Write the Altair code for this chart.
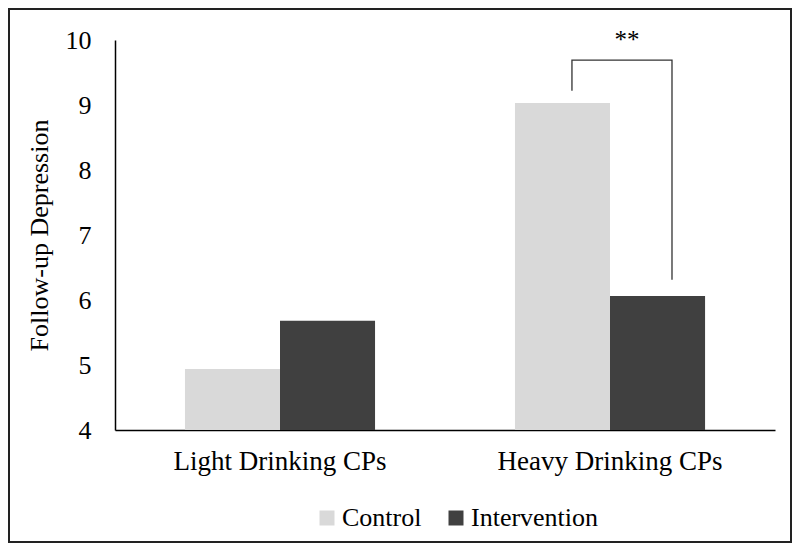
import altair as alt
import pandas as pd

categories = ["Light Drinking CPs", "Heavy Drinking CPs"]
groups = ["Control", "Intervention"]
control_values = [4.94, 9.03]
intervention_values = [5.68, 6.06]
colors = ["#d9d9d9", "#404040"]

# significance bracket (Heavy Drinking CPs): left foot, top, top, right foot
bracket_groups = ["Control", "Control", "Intervention", "Intervention"]
bracket_values = [9.22, 9.69, 9.69, 6.31]
star_label = "**"
star_value = 10.0

rows = []
for i, c in enumerate(categories):
    rows.append({"cat": c, "group": "Control", "value": control_values[i]})
    rows.append({"cat": c, "group": "Intervention", "value": intervention_values[i]})
df = pd.DataFrame(rows)

bracket_df = pd.DataFrame({
    "cat": [categories[1]] * 4,
    "group": bracket_groups,
    "value": bracket_values,
    "step": list(range(4)),
})
star_df = pd.DataFrame({"cat": [categories[1]], "value": [star_value], "label": [star_label]})

FONT = "Liberation Serif"

x_enc = alt.X("cat:N", sort=categories, title=None,
              scale=alt.Scale(paddingInner=0.424, paddingOuter=0.212),
              axis=alt.Axis(labelAngle=0, ticks=False, labelPadding=18, labelLimit=0,
                            labelFontSize=27))
y_scale = alt.Scale(domain=[4, 10], nice=False, zero=False)

bars = alt.Chart(df).mark_bar(clip=True).encode(
    x=x_enc,
    xOffset=alt.XOffset("group:N", sort=groups, scale=alt.Scale(paddingInner=0, paddingOuter=0)),
    y=alt.Y("value:Q", scale=y_scale, title="Follow-up Depression",
            axis=alt.Axis(values=[4, 5, 6, 7, 8, 9, 10], format="d", grid=False, ticks=False,
                          labelPadding=24, titlePadding=13, labelFontSize=26, titleFontSize=26)),
    y2=alt.datum(4),
    color=alt.Color("group:N", sort=groups, scale=alt.Scale(domain=groups, range=colors),
                    legend=alt.Legend(title=None, orient="none", direction="horizontal",
                                      legendX=199, legendY=465, symbolType="square",
                                      symbolSize=225, symbolStrokeWidth=0,
                                      columnPadding=21, labelOffset=2)),
)

bracket = alt.Chart(bracket_df).mark_line(color="#333", strokeWidth=1.3).encode(
    x=alt.X("cat:N", sort=categories),
    xOffset=alt.XOffset("group:N", sort=groups,
                        scale=alt.Scale(type="point", padding=0.45, align=0.633)),
    y=alt.Y("value:Q", scale=y_scale),
    order="step:Q",
)

stars = alt.Chart(star_df).mark_text(fontSize=25, font=FONT, color="#000", baseline="middle", dx=17).encode(
    x=alt.X("cat:N", sort=categories),
    y=alt.Y("value:Q", scale=y_scale),
    text="label:N",
)

border = alt.Chart(star_df).mark_rect(fill=None, stroke="#222", strokeWidth=2).encode(
    x=alt.value(-106), x2=alt.value(676), y=alt.value(-31), y2=alt.value(502)
)

chart = alt.layer(bars, bracket, stars, border).resolve_scale(xOffset="independent").properties(
    width=660, height=390,
    padding={"left": 107, "top": 32, "right": 17, "bottom": 113},
    autosize=alt.AutoSizeParams(type="none"),
).configure(font=FONT).configure_view(stroke=None).configure_axis(
    labelFont=FONT, labelColor="#000",
    titleFont=FONT, titleFontWeight="normal", titleColor="#000",
    domainColor="#000", domainWidth=1.5,
).configure_legend(
    labelFont=FONT, labelFontSize=26, labelColor="#000",
)

chart.save("out.html", embed_options={"renderer": "svg", "actions": False})
